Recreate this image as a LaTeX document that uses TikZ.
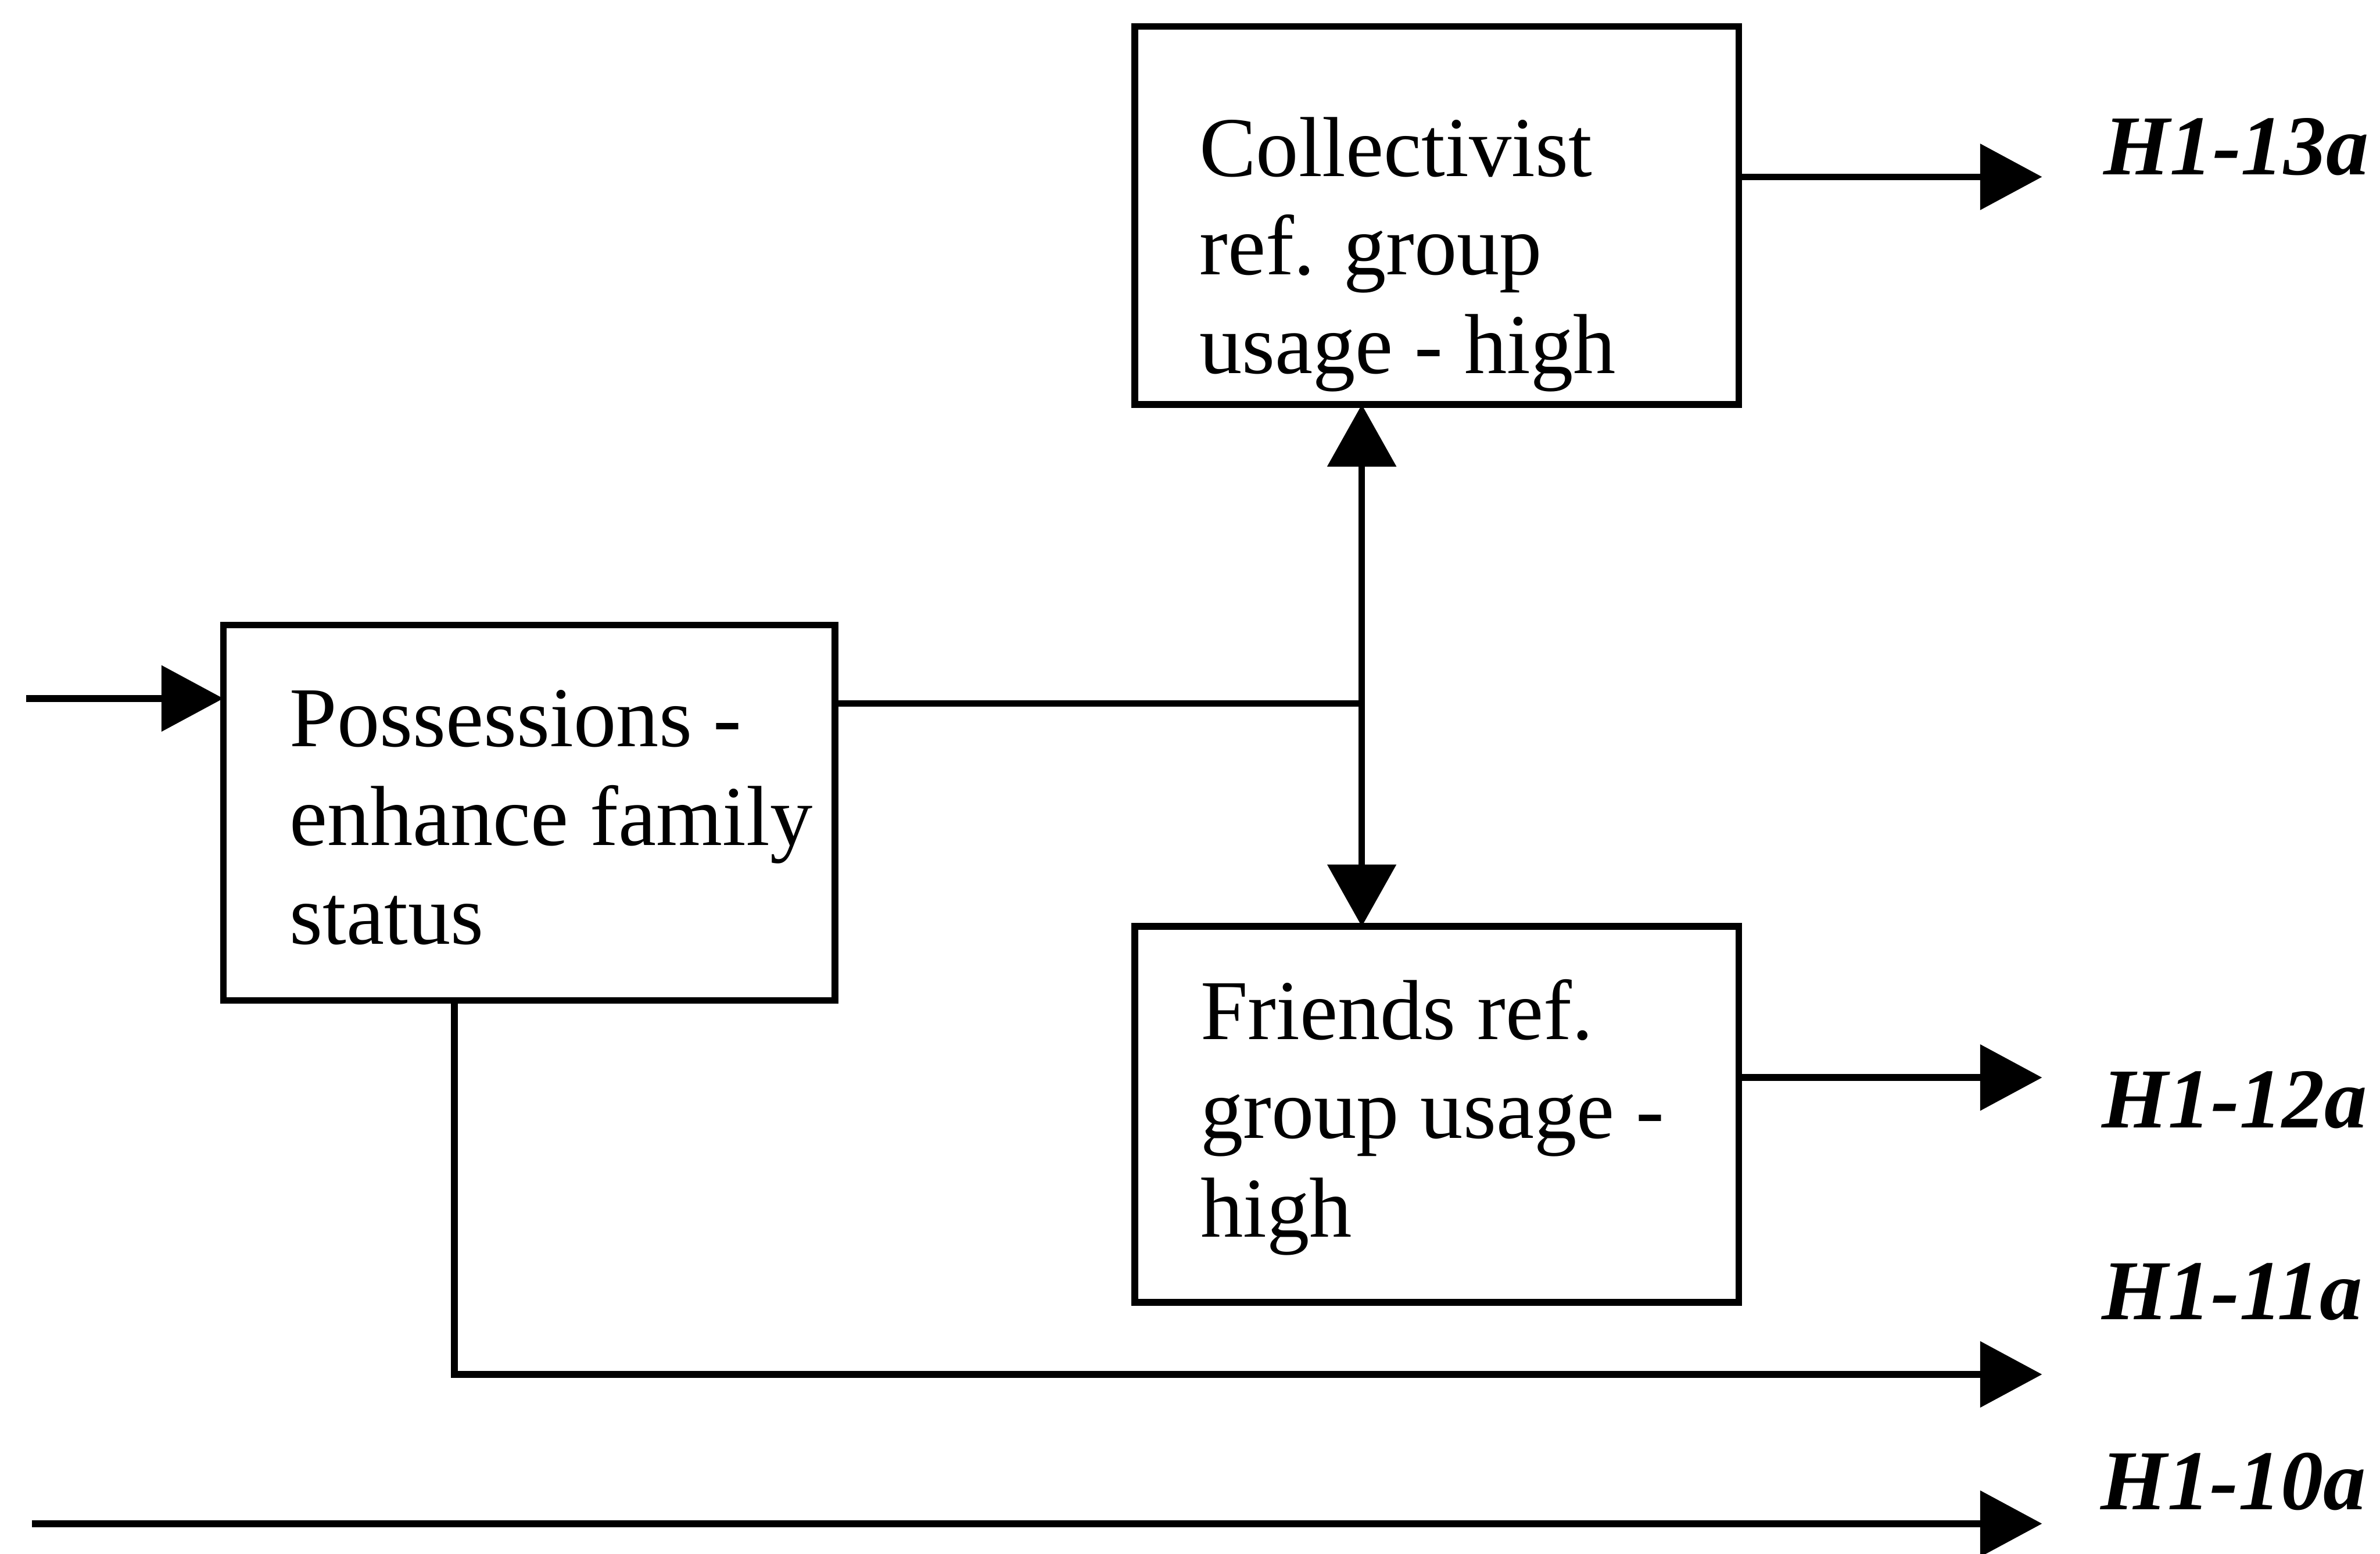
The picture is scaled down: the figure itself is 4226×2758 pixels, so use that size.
\documentclass[tikz,border=0pt]{standalone}
\usepackage{fontspec}
\setmainfont{Liberation Serif}
\usetikzlibrary{arrows.meta}
\begin{document}
\begin{tikzpicture}[x=0.01cm,y=-0.01cm,
  boxnode/.style={draw,line width=3.4pt,inner sep=0pt,outer sep=0pt,rectangle},
  boxtext/.style={anchor=base west,align=left,inner sep=0pt,font=\fontsize{43}{49.8}\selectfont},
  hyplabel/.style={anchor=base west,inner sep=0pt,font=\fontsize{43}{49.8}\selectfont\bfseries\itshape},
  conn/.style={line width=3.4pt},
  arr/.style={conn,-{Triangle[length=1.1cm,width=1.15cm]}},
  dblarr/.style={conn,{Triangle[length=1.1cm,width=1.2cm]}-{Triangle[length=1.1cm,width=1.2cm]}}]
\useasboundingbox (0,0) rectangle (4226,2758);
\fill[white] (0,0) rectangle (4226,2758);
% boxes
\node[boxnode,minimum width=10.72cm,minimum height=6.71cm] (coll) at (2551,382.5) {};
\node[boxnode,minimum width=10.85cm,minimum height=6.66cm] (poss) at (939.5,1443) {};
\node[boxnode,minimum width=10.72cm,minimum height=6.67cm] (fr) at (2551,1978.5) {};
% box texts (anchored at the baseline of the last line)
\node[boxtext] (colltext) at (2129,663) {Collectivist\\ref. group\\usage - high};
\node[boxtext] (posstext) at (514,1676) {Possessions -\\enhance family\\status};
\node[boxtext] (frtext) at (2131,2196) {Friends ref.\\group usage -\\high};
% labels
\node[hyplabel] (h13) at (3735,310) {H1-13a};
\node[hyplabel] (h12) at (3732,2002) {H1-12a};
\node[hyplabel] (h11) at (3732,2343) {H1-11a};
\node[hyplabel] (h10) at (3730,2680) {H1-10a};
% coordinates
\coordinate (inL) at (46,1240);
\coordinate (j) at (2418,1249);
\coordinate (t13) at (3626,314);
\coordinate (t12) at (3626,1913);
\coordinate (c11) at (807,2440);
\coordinate (t11) at (3626,2440);
\coordinate (s10) at (57,2705);
\coordinate (t10) at (3626,2705);
% connectors
\draw[arr] (inL) -- (inL -| poss.west);
\draw[conn] (poss.east |- j) -- (j);
\draw[dblarr] (coll.south -| j) -- (fr.north -| j);
\draw[arr] (coll.east |- t13) -- (t13);
\draw[arr] (fr.east |- t12) -- (t12);
\draw[arr] (poss.south -| c11) -- (c11) -- (t11);
\draw[arr] (s10) -- (t10);
\end{tikzpicture}
\end{document}
